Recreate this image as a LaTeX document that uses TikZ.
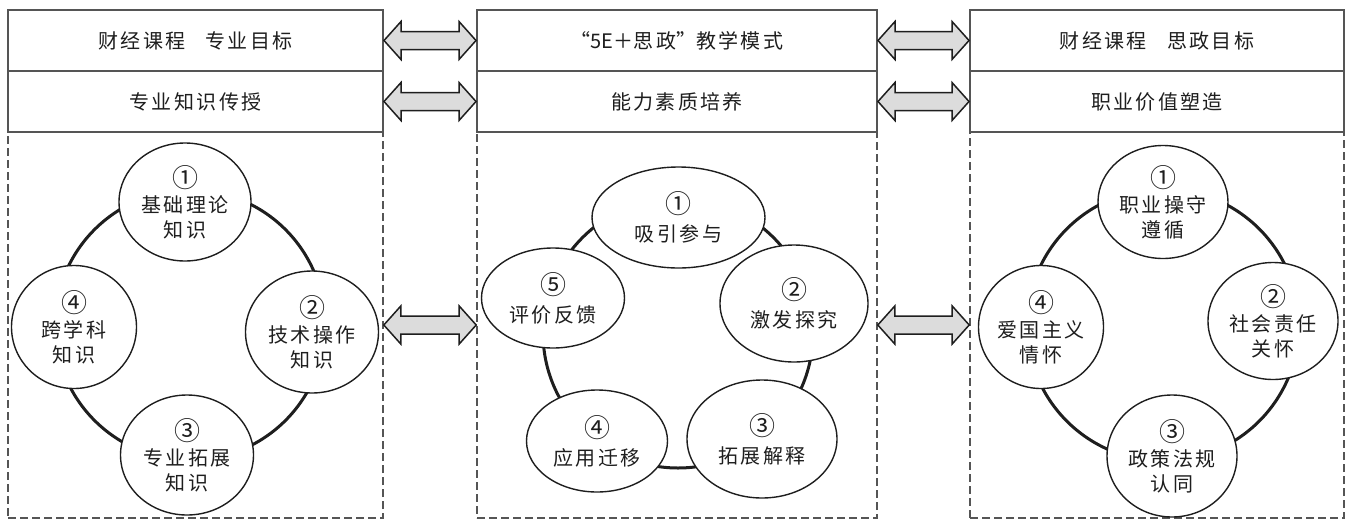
\documentclass[tikz,border=0pt]{standalone}
\usepackage{fontspec}
\setmainfont{Noto Sans CJK SC}[LetterSpace=12]
\newfontfamily\plainfont{Noto Sans CJK SC}
\usetikzlibrary{shapes.geometric,calc}
\definecolor{ink}{HTML}{1E1E1E}
\definecolor{boxc}{HTML}{555555}
\definecolor{arrfill}{HTML}{DCDCDC}
\newcommand\cnum[1]{{\plainfont\fontsize{26}{26}\selectfont #1}}
\newcommand\dblarrow[2]{%
  \draw[arr] (#1) -- ($(#1)+(17,-19)$) -- ($(#1)+(17,-9)$) -- ($(#2)+(-17,-9)$)
    -- ($(#2)+(-17,-19)$) -- (#2) -- ($(#2)+(-17,19)$) -- ($(#2)+(-17,9)$)
    -- ($(#1)+(17,9)$) -- ($(#1)+(17,19)$) -- cycle;}
\begin{document}
\begin{tikzpicture}[x=1pt,y=-1pt,
  every node/.style={text=ink},
  topbox/.style={draw=boxc, line width=2pt, fill=white, minimum height=61pt,
    inner sep=0pt, font=\fontsize{20}{24}\selectfont},
  dashbox/.style={draw=boxc, line width=1.6pt, dash pattern=on 8pt off 4pt,
    minimum height=386pt, inner sep=0pt},
  ring/.style={draw=ink, line width=3pt, circle, inner sep=0pt},
  bub/.style={draw=ink, line width=1.4pt, fill=white, ellipse, inner sep=0pt,
    align=center, font=\fontsize{20}{25}\selectfont},
  mbub/.style={bub, font=\fontsize{20}{28}\selectfont},
  arr/.style={draw=ink, line width=1.5pt, fill=arrfill, line join=miter}]
\useasboundingbox (0,0) rectangle (1350,528);
\fill[white] (0,0) rectangle (1350,528);

% columns
\node[dashbox, minimum width=375pt] (LD) at (195.5,325) {};
\node[dashbox, minimum width=400pt] (MD) at (677,325) {};
\node[dashbox, minimum width=374pt] (RD) at (1157,325) {};

\node[topbox, minimum width=375pt] (L1) at (195.5,40.5) {财经课程\quad 专业目标};
\node[topbox, minimum width=375pt] (L2) at (195.5,101.5) {专业知识传授};
\node[topbox, minimum width=400pt] (M1) at (677,40.5) {{\plainfont “5E＋}思政{\plainfont ”}教学模式};
\node[topbox, minimum width=400pt] (M2) at (677,101.5) {能力素质培养};
\node[topbox, minimum width=374pt] (R1) at (1157,40.5) {财经课程\quad 思政目标};
\node[topbox, minimum width=374pt] (R2) at (1157,101.5) {职业价值塑造};

% arrows
\dblarrow{L1.east}{M1.west}
\dblarrow{M1.east}{R1.west}
\dblarrow{L2.east}{M2.west}
\dblarrow{M2.east}{R2.west}
\dblarrow{LD.east}{MD.west}
\dblarrow{MD.east}{RD.west}

% left ring
\node[ring, minimum size=270pt] (LR) at (190,325) {};
\node[bub, minimum width=132pt, minimum height=118pt] (la) at (185,202) {\cnum{①}\\基础理论\\知识};
\node[bub, minimum width=133pt, minimum height=122pt] (lb) at (312,332) {\cnum{②}\\技术操作\\知识};
\node[bub, minimum width=133pt, minimum height=120pt] (lc) at (187,455) {\cnum{③}\\专业拓展\\知识};
\node[bub, minimum width=125pt, minimum height=123pt] (ld) at (74,327) {\cnum{④}\\跨学科\\知识};

% middle ring
\node[ring, minimum size=270pt] (MR) at (678,333) {};
\node[mbub, minimum width=173pt, minimum height=101pt] (ma) at (678.5,217.5) {\cnum{①}\\吸引参与};
\node[mbub, minimum width=148pt, minimum height=117pt] (mb) at (794,303.5) {\cnum{②}\\激发探究};
\node[mbub, minimum width=150pt, minimum height=118pt] (mc) at (762,439) {\cnum{③}\\拓展解释};
\node[mbub, minimum width=141pt, minimum height=102pt] (md) at (597,441) {\cnum{④}\\应用迁移};
\node[mbub, minimum width=143pt, minimum height=100pt] (me) at (553,298) {\cnum{⑤}\\评价反馈};

% right ring
\node[ring, minimum size=272pt] (RR) at (1163,325) {};
\node[bub, minimum width=130pt, minimum height=113pt] (ra) at (1163,202) {\cnum{①}\\职业操守\\遵循};
\node[bub, minimum width=130pt, minimum height=117pt] (rb) at (1273,321) {\cnum{②}\\社会责任\\关怀};
\node[bub, minimum width=130pt, minimum height=122pt] (rc) at (1172,456) {\cnum{③}\\政策法规\\认同};
\node[bub, minimum width=125pt, minimum height=123pt] (rd) at (1041,327) {\cnum{④}\\爱国主义\\情怀};
\end{tikzpicture}
\end{document}
